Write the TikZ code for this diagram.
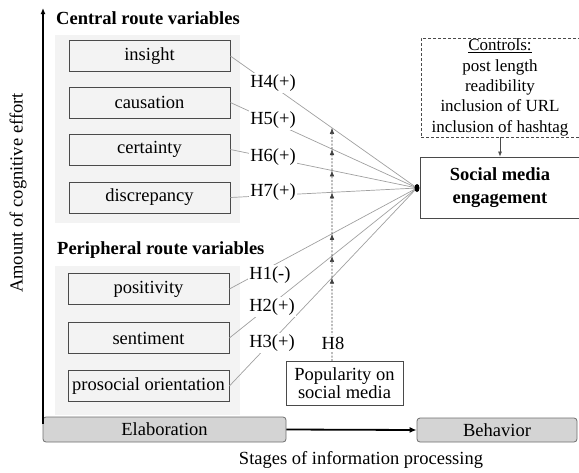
\documentclass[tikz,border=0pt]{standalone}
\usepackage{fontspec}
\setmainfont{Liberation Serif}
\usetikzlibrary{arrows.meta,shapes.geometric}
\definecolor{panelgray}{HTML}{F3F3F3}
\definecolor{boxgray}{HTML}{4A4A4A}
\definecolor{linegray}{HTML}{A0A0A0}
\definecolor{stagefill}{HTML}{D4D4D4}
\definecolor{stageline}{HTML}{6E6E6E}
\begin{document}
\begin{tikzpicture}[x=1pt,y=-1pt,
  font=\fontsize{18.5}{21}\selectfont,
  panel/.style={fill=panelgray},
  heading/.style={anchor=west,font=\fontsize{18.5}{21}\selectfont\bfseries,inner sep=0pt},
  varbox/.style={draw=boxgray,fill=panelgray,line width=0.8pt,minimum width=161pt,minimum height=31pt,inner sep=0pt},
  hyp/.style={fill=white,inner sep=1.5pt},
  conn/.style={draw=linegray,line width=0.7pt},
  modline/.style={draw=black!75,line width=0.6pt,dash pattern=on 2pt off 1.5pt,-{Latex[length=6pt,width=4.5pt]}},
  stagebox/.style={draw=stageline,fill=stagefill,line width=0.8pt,rounded corners=3pt,inner sep=0pt},
  thickarrow/.style={line width=1.8pt,-{Latex[length=7pt,width=6pt]}},
  focusdot/.style={ellipse,fill=black,minimum width=5pt,minimum height=8pt,inner sep=0pt},
]
\useasboundingbox (0,0) rectangle (579,472);

% axes label
\node[rotate=90] (ylab) at (18,193) {Amount of cognitive effort};

% panels
\fill[panel] (55,35) rectangle (240,223);
\fill[panel] (55,266) rectangle (240,415);

% headings
\node[heading] (hcentral) at (56,18) {Central route variables};
\node[heading] (hperiph) at (57,250) {Peripheral route variables};

% variable boxes
\node[varbox] (insight) at (149.5,56) {insight};
\node[varbox] (causation) at (149.5,102.5) {causation};
\node[varbox] (certainty) at (149.5,149.5) {certainty};
\node[varbox] (discrepancy) at (149.5,197.5) {discrepancy};
\node[varbox] (positivity) at (148.5,289) {positivity};
\node[varbox] (sentiment) at (148.5,338) {sentiment};
\node[varbox] (prosocial) at (148.5,386) {prosocial orientation};

% outcome and controls
\node[draw=boxgray,line width=0.8pt,minimum width=160pt,minimum height=61pt,inner sep=0pt,
      align=center,font=\fontsize{18.5}{23}\selectfont\bfseries] (sme) at (500,187.5) {Social media\\engagement};
\node[draw=boxgray,line width=0.7pt,dash pattern=on 3pt off 2pt,minimum width=158pt,minimum height=99pt,inner sep=0pt,
      align=center,font=\fontsize{17}{20.3}\selectfont] (controls) at (500,87.5)
      {\underline{Controls:}\\post length\\readibility\\inclusion of URL\\inclusion of hashtag};
\draw[draw=boxgray,line width=0.7pt,-{Latex[length=5pt,width=4pt]}] (controls.south) -- (sme.north);

% popularity
\node[draw=boxgray,fill=white,line width=0.8pt,minimum width=117pt,minimum height=44pt,inner sep=0pt,
      align=center,font=\fontsize{18.5}{18}\selectfont] (pop) at (344.5,383) {Popularity on\\social media};

% focus point
\coordinate (focus) at (417,188);

% connectors
\draw[conn] (insight.east) -- (focus);
\draw[conn] (causation.east) -- (focus);
\draw[conn] (certainty.east) -- (focus);
\draw[conn] (discrepancy.east) -- (focus);
\draw[conn] (positivity.east) -- (focus);
\draw[conn] (sentiment.east) -- (focus);
\draw[conn] (prosocial.east) -- (focus);

% moderator line
\coordinate (mb) at (332,361);
\coordinate (mt) at (332,100);
\coordinate (i4) at (intersection of insight.east--focus and mb--mt);
\coordinate (i5) at (intersection of causation.east--focus and mb--mt);
\coordinate (i6) at (intersection of certainty.east--focus and mb--mt);
\coordinate (i7) at (intersection of discrepancy.east--focus and mb--mt);
\coordinate (i1) at (intersection of positivity.east--focus and mb--mt);
\coordinate (i2) at (intersection of sentiment.east--focus and mb--mt);
\coordinate (i3) at (intersection of prosocial.east--focus and mb--mt);
\draw[modline] (mb) -- (i3);
\draw[modline] (i3) -- (i2);
\draw[modline] (i2) -- (i1);
\draw[modline] (i1) -- (i7);
\draw[modline] (i7) -- (i6);
\draw[modline] (i6) -- (i5);
\draw[modline] (i5) -- (i4);

\node[focusdot] (dot) at (focus) {};

% hypothesis labels
\node[hyp] (h4) at (273,83) {H4(+)};
\node[hyp] (h5) at (273,120) {H5(+)};
\node[hyp] (h6) at (273,157.5) {H6(+)};
\node[hyp] (h7) at (273,192.5) {H7(+)};
\node[hyp] (h1) at (270,275) {H1(-)};
\node[hyp] (h2) at (272,307) {H2(+)};
\node[hyp] (h3) at (272,343) {H3(+)};
\node[hyp] (h8) at (333,343) {H8};

% stages
\node[stagebox,minimum width=243pt,minimum height=25pt] (elab) at (164.5,429.5) {Elaboration};
\node[stagebox,minimum width=160pt,minimum height=24pt] (behav) at (497,430) {Behavior};
\draw[thickarrow] (elab.east) -- (behav.west);
\coordinate (axbot) at (43,424);
\coordinate (axtop) at (43,8);
\draw[line width=1.8pt,-{Latex[length=6pt,width=5pt]}] (axbot) -- (axtop);

\node (xlab) at (361,460) {Stages of information processing};
\end{tikzpicture}
\end{document}
